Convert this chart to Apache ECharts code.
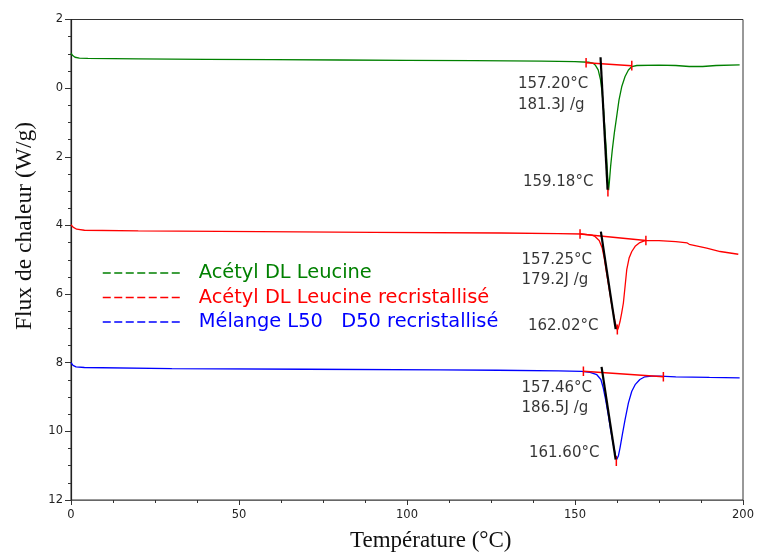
<!DOCTYPE html>
<html><head><meta charset="utf-8">
<script src="https://cdn.jsdelivr.net/npm/echarts@6/dist/echarts.min.js"></script>
<style>html,body{margin:0;padding:0;background:#fff}#c{width:758px;height:555px}</style>
</head><body><div id="c"></div>
<script>
// ---- data (temperature °C, heat flow W/g) ----
const seriesNames = ['Acétyl DL Leucine', 'Acétyl DL Leucine recristallisé', 'Mélange L50   D50 recristallisé'];
const greenCurve = [[0,-1.02],[0.5,-0.95],[1.2,-0.9],[2.5,-0.875],[5,-0.865],[20,-0.85],[40,-0.84],[60,-0.83],[80,-0.82],[100,-0.81],[120,-0.80],[140,-0.785],[150,-0.775],[154,-0.755],[155.3,-0.73],[156,-0.676],[156.9,-0.53],[157.6,-0.24],[158.1,0.15],[158.5,0.63],[158.9,1.22],[159.3,1.80],[159.6,2.38],[159.9,2.87],[160.0,2.97],[160.2,2.77],[160.6,2.28],[161.1,1.80],[161.7,1.31],[162.4,0.83],[163.1,0.34],[163.9,-0.04],[164.9,-0.34],[165.9,-0.53],[166.9,-0.63],[168.4,-0.66],[175,-0.67],[180,-0.66],[184,-0.63],[188,-0.63],[192,-0.66],[199,-0.68]];
const redCurve = [[0,3.98],[0.6,4.05],[1.7,4.11],[4,4.14],[20,4.16],[56,4.18],[90,4.2],[128,4.22],[145,4.24],[152,4.25],[155,4.28],[155.95,4.32],[157.2,4.44],[158.1,4.66],[158.7,4.95],[159.4,5.39],[160.2,5.87],[161.0,6.36],[161.8,6.75],[162.4,6.99],[162.6,7.05],[162.9,6.99],[163.4,6.80],[163.9,6.55],[164.4,6.26],[164.9,5.78],[165.4,5.29],[166.1,4.95],[166.9,4.76],[167.9,4.61],[169.3,4.50],[170.8,4.44],[175,4.44],[180,4.47],[183.4,4.51],[184,4.55],[189.2,4.66],[193.2,4.76],[198.6,4.84]];
const blueCurve = [[0,8.0],[0.6,8.08],[1.5,8.12],[4,8.14],[30,8.17],[70,8.19],[110,8.21],[127,8.22],[145,8.24],[152,8.25],[154.5,8.28],[156.5,8.35],[157.7,8.49],[158.4,8.73],[159.1,9.07],[159.8,9.46],[160.6,9.95],[161.4,10.38],[162.1,10.72],[162.4,10.82],[162.9,10.72],[163.4,10.48],[164.1,10.09],[164.9,9.66],[165.9,9.17],[166.9,8.83],[167.9,8.64],[169.3,8.49],[170.8,8.41],[172.8,8.39],[175.3,8.39],[180,8.41],[190,8.43],[199,8.44]];

// integration baselines (start point, end point)
const greenBaseline = [[153.3,-0.74],[166.9,-0.655]];
const redBaseline = [[151.5,4.25],[171.1,4.44]];
const blueBaseline = [[152.5,8.25],[176.3,8.41]];
// onset tangents
const greenTangent = [[157.6,-0.90],[159.7,2.96]];
const redTangent = [[157.7,4.18],[162.1,7.02]];
const blueTangent = [[157.9,8.12],[162.1,10.82]];
// peak markers
const greenPeak = [[159.8,2.90],[159.8,3.16]];
const redPeak = [[162.6,6.89],[162.6,7.18]];
const bluePeak = [[162.3,10.72],[162.3,11.01]];

// annotation texts [T, flux, text]
const annotations = [
  [133.0,-0.11,'157.20°C'],[133.0,0.49,'181.3J /g'],[134.5,2.73,'159.18°C'],
  [134.1,5.01,'157.25°C'],[134.1,5.58,'179.2J /g'],[136.0,6.93,'162.02°C'],
  [134.1,8.74,'157.46°C'],[134.1,9.32,'186.5J /g'],[136.3,10.63,'161.60°C']
];

const xTicks = {min:0, max:200, interval:50};
const yTicks = {min:-2, max:12, interval:2};

const GREEN='#008000', RED='#ff0000', BLUE='#0000ff';
const TICK_HALF = 0.14;

function vtick(p){ return [[p[0],p[1]-TICK_HALF],[p[0],p[1]+TICK_HALF]]; }
function seg(data, color, width, z){
  return {type:'line', data:data, symbol:'none', silent:true, animation:false, z:z||3,
    lineStyle:{color:color,width:width}};
}

const series = [
  {name:seriesNames[0], type:'line', data:greenCurve, symbol:'none', animation:false, lineStyle:{color:GREEN,width:1.3}, itemStyle:{color:GREEN}, z:2},
  {name:seriesNames[1], type:'line', data:redCurve, symbol:'none', animation:false, lineStyle:{color:RED,width:1.3}, itemStyle:{color:RED}, z:2},
  {name:seriesNames[2], type:'line', data:blueCurve, symbol:'none', animation:false, lineStyle:{color:BLUE,width:1.3}, itemStyle:{color:BLUE}, z:2},
];
[[greenBaseline,greenTangent,greenPeak],[redBaseline,redTangent,redPeak],[blueBaseline,blueTangent,bluePeak]].forEach(g=>{
  series.push(seg(g[0], RED, 1.5, 3));
  series.push(seg(vtick(g[0][0]), RED, 1.5, 3));
  series.push(seg(vtick(g[0][1]), RED, 1.5, 3));
  series.push(seg(g[1], '#000', 2.2, 4));
  series.push(seg(g[2], RED, 1.5, 3));
});
series.push({type:'scatter', symbolSize:0, silent:true, animation:false, z:5,
  data: annotations.map(a=>({value:[a[0],a[1]], name:a[2]})),
  label:{show:true, position:'right', distance:0, formatter:'{b}',
    color:'#000', textBorderWidth:0, fontFamily:'DejaVu Sans', fontSize:15}
});

const chart = echarts.init(document.getElementById('c'), null, {renderer:'canvas'});
chart.setOption({
  backgroundColor:'#fff',
  animation:false,
  grid:{left:71, right:15, top:19.5, bottom:55, show:true, borderColor:'#333', borderWidth:1},
  legend:{
    orient:'vertical', left:97, top:258, itemWidth:78, itemHeight:12, itemGap:4.5,
    lineStyle:{type:[8,3.5], width:1.5},
    itemStyle:{opacity:0},
    textStyle:{fontFamily:'DejaVu Sans', fontSize:19.4, padding:[0,0,0,13], lineHeight:20},
    data:[
      {name:seriesNames[0], textStyle:{color:GREEN}},
      {name:seriesNames[1], textStyle:{color:RED}},
      {name:seriesNames[2], textStyle:{color:BLUE}}
    ]
  },
  xAxis:{type:'value', min:xTicks.min, max:xTicks.max, interval:xTicks.interval,
    axisLine:{onZero:false, lineStyle:{color:'#666', width:1.2}},
    axisTick:{length:5, lineStyle:{color:'#333'}},
    minorTick:{show:true, splitNumber:4, length:3, lineStyle:{color:'#333'}},
    splitLine:{show:false},
    axisLabel:{fontFamily:'DejaVu Sans', fontSize:11.5, color:'#222', margin:9}
  },
  yAxis:{type:'value', inverse:true, min:yTicks.min, max:yTicks.max, interval:yTicks.interval,
    axisLine:{show:true, onZero:false, lineStyle:{color:'#222', width:1.2}},
    axisTick:{show:true, length:6, lineStyle:{color:'#333'}},
    minorTick:{show:true, splitNumber:4, length:3, lineStyle:{color:'#333'}},
    splitLine:{show:false},
    axisLabel:{fontFamily:'DejaVu Sans', fontSize:11.5, color:'#222', margin:8, formatter:v=>String(Math.abs(v))}
  },
  graphic:[
    {type:'text', left:350, top:529, style:{text:'Température (°C)', font:'23px "Liberation Serif"', fill:'#111'}},
    {type:'text', x:25, y:226, rotation:Math.PI/2, style:{text:'Flux de chaleur (W/g)', font:'23.5px "Liberation Serif"', fill:'#111', textAlign:'center', textVerticalAlign:'middle'}}
  ],
  series:series
});
</script></body></html>
